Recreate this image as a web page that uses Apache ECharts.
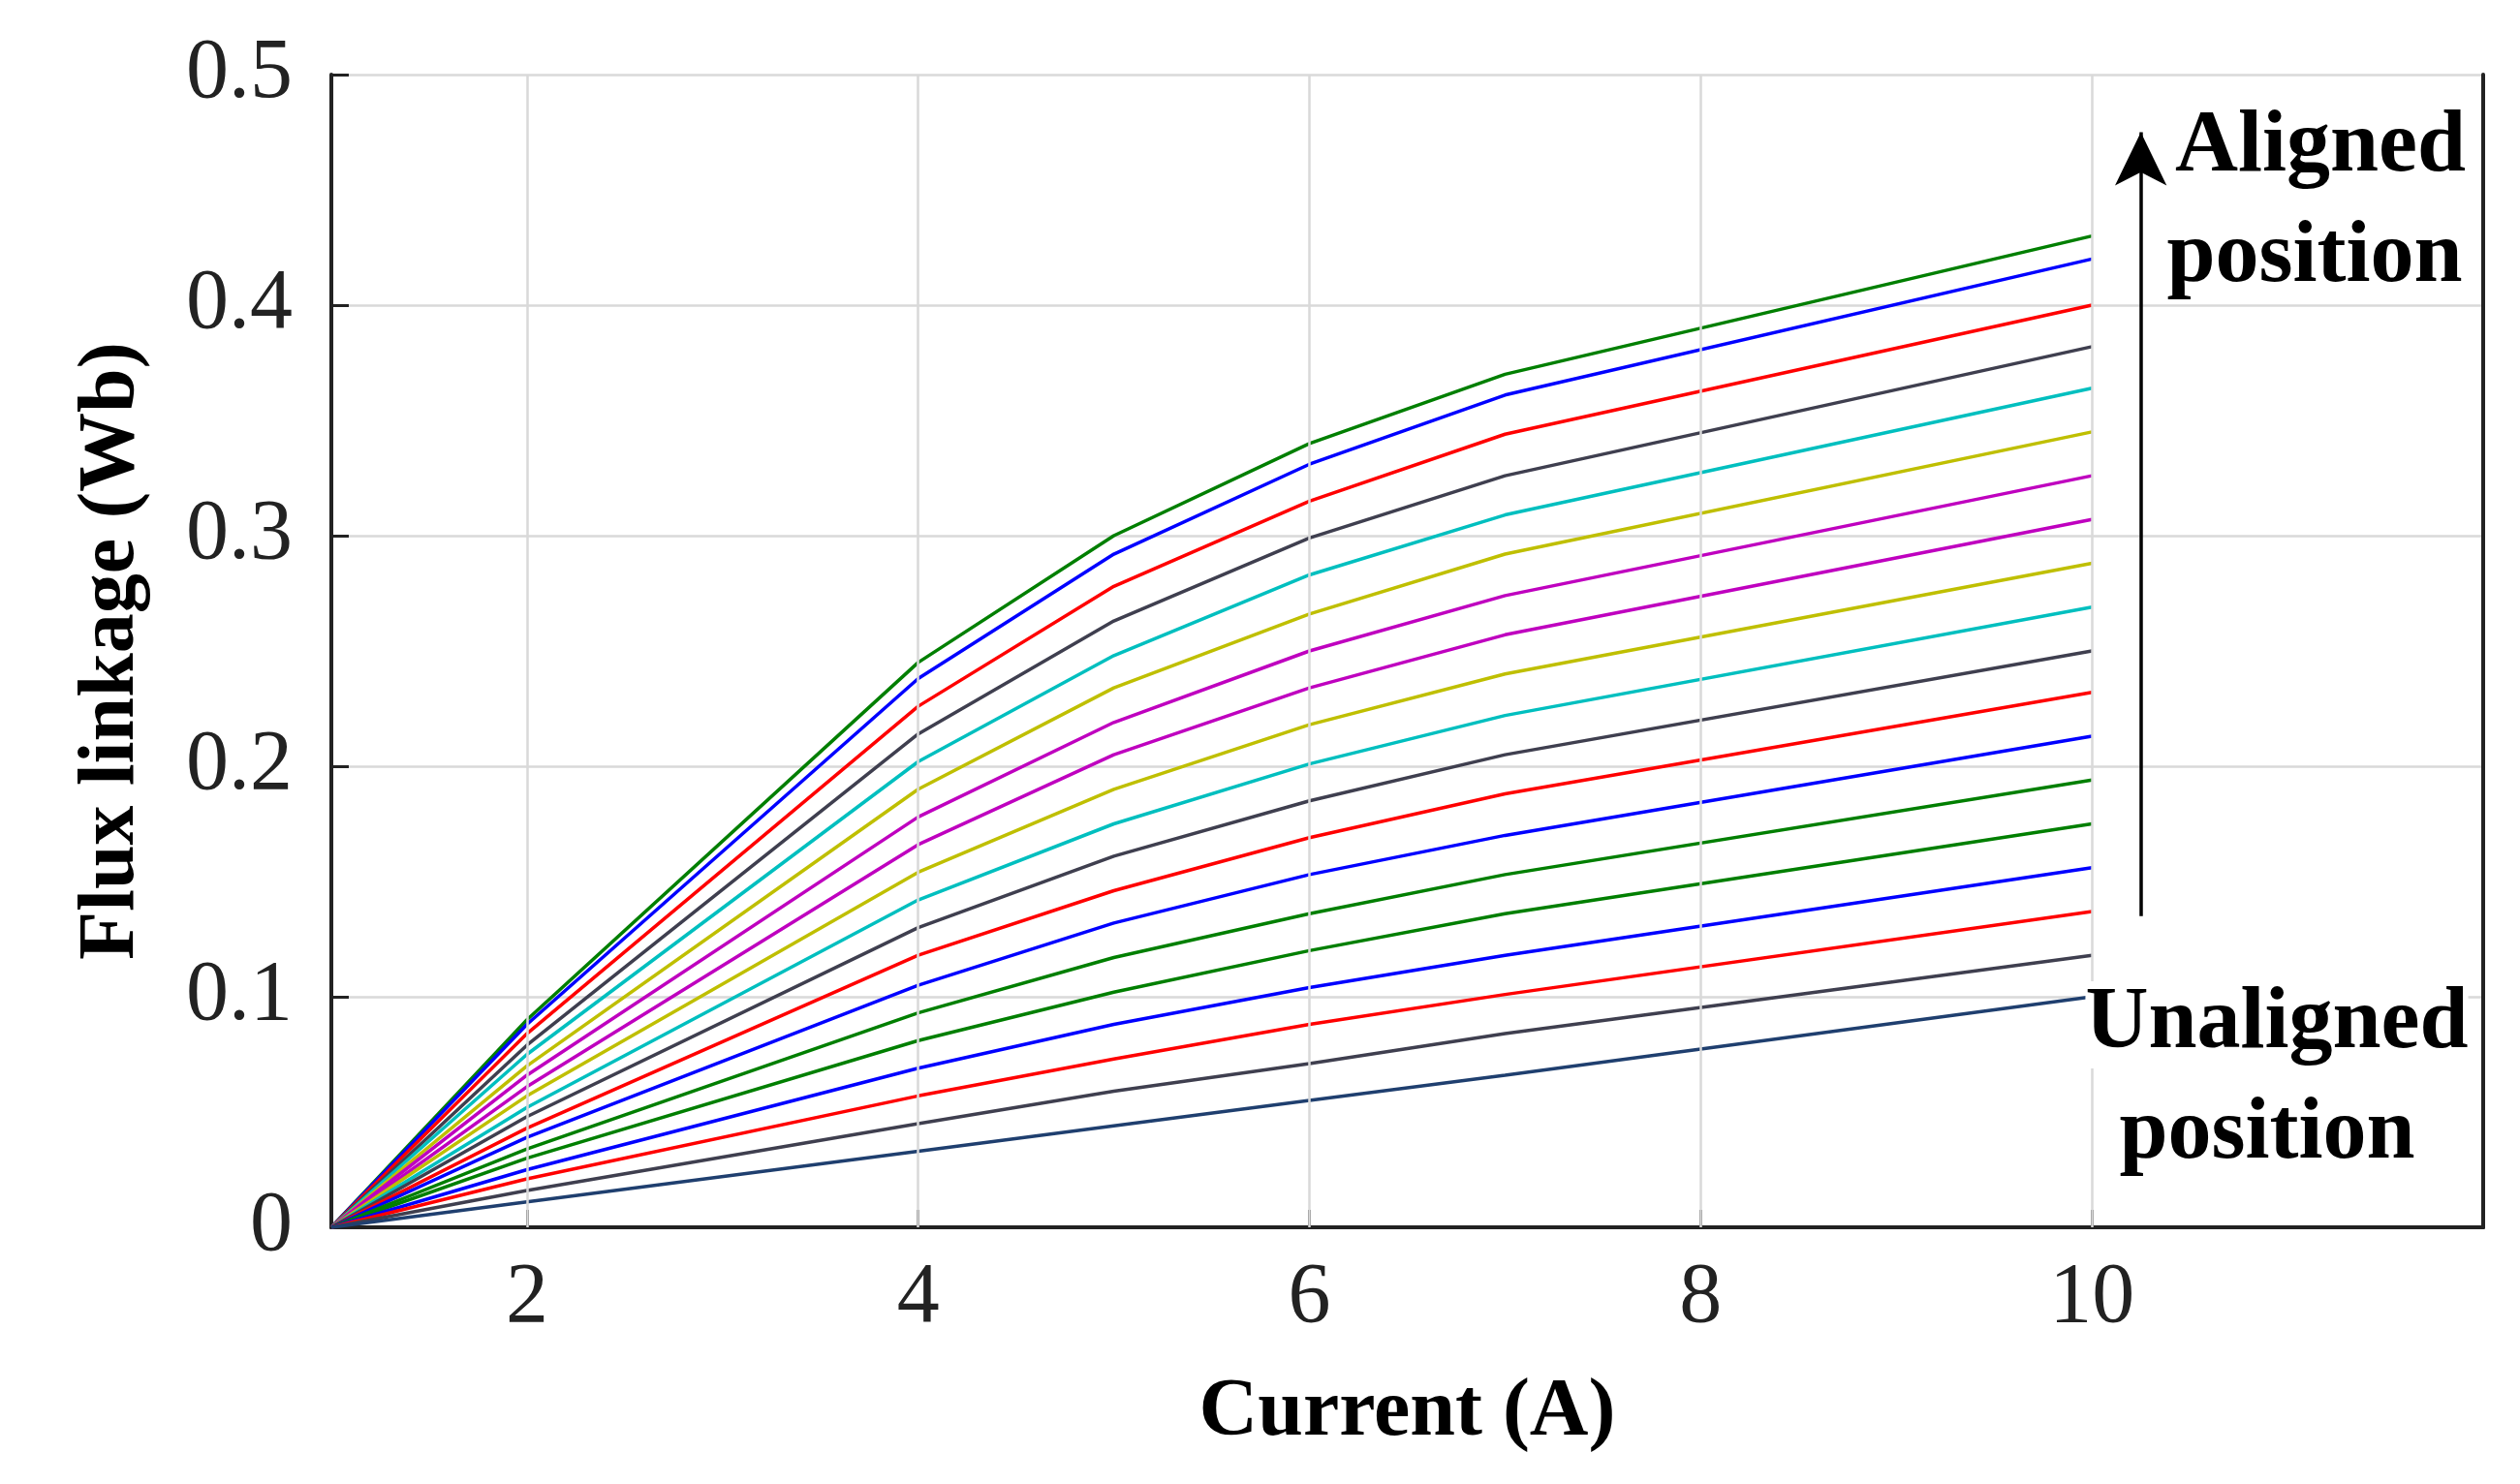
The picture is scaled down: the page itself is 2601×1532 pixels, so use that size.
<!DOCTYPE html>
<html><head><meta charset="utf-8">
<script src="https://cdn.jsdelivr.net/npm/echarts@6/dist/echarts.min.js"></script>
<style>html,body{margin:0;padding:0;background:#fff}#c{width:2601px;height:1532px}</style>
</head><body><div id="c"></div>
<script>
const xs = [1, 2, 4, 5, 6, 7, 10];
const at1 = [0,0,0,0,0,0,0,0,0,0,0,0,0,0,0,0,0,0,0];
const at2 = [0.09,0.088,0.084,0.079,0.075,0.07,0.066,0.061,0.057,0.052,0.048,0.043,0.039,0.034,0.03,0.025,0.021,0.016,0.011];
const at4 = [0.245,0.238,0.226,0.214,0.202,0.19,0.178,0.166,0.154,0.142,0.13,0.118,0.105,0.093,0.081,0.069,0.057,0.045,0.033];
const at5 = [0.30,0.292,0.278,0.263,0.248,0.234,0.219,0.205,0.19,0.175,0.161,0.146,0.132,0.117,0.102,0.088,0.073,0.059,0.044];
const at6 = [0.34,0.331,0.315,0.299,0.283,0.266,0.25,0.234,0.218,0.201,0.185,0.169,0.153,0.136,0.12,0.104,0.088,0.071,0.055];
const at7 = [0.37,0.361,0.344,0.326,0.309,0.292,0.274,0.257,0.24,0.222,0.205,0.188,0.17,0.153,0.136,0.118,0.101,0.084,0.066];
const at10 = [0.43,0.42,0.40,0.382,0.364,0.345,0.326,0.307,0.288,0.269,0.25,0.232,0.213,0.194,0.175,0.156,0.137,0.118,0.100];
const colors = ['#007f00','#0000ff','#ff0000','#3f3f4f','#00bfbf','#bfbf00','#bf00bf','#bf00bf','#bfbf00','#00bfbf','#3f3f4f','#ff0000','#0000ff','#007f00','#007f00','#0000ff','#ff0000','#3f3f4f','#1f3f6f'];
const xTicks = [2,4,6,8,10];
const yTicks = [0,0.1,0.2,0.3,0.4,0.5];
const cols = [at1,at2,at4,at5,at6,at7,at10];
const series = colors.map((c,i)=>({
  type:'line', symbol:'none', silent:true, z:3, lineStyle:{color:c,width:3.5},
  data: xs.map((x,j)=>[x, cols[j][i]])
}));
series.push({type:'line',data:[],z:1,markLine:{silent:true,symbol:['none','none'],label:{show:false},animation:false,
  lineStyle:{color:'#d9d9d9',width:2.5,type:'solid'},data:xTicks.map(x=>({xAxis:x}))}});
series.push({type:'line',data:[],z:5,markLine:{silent:true,symbol:['none','arrow'],symbolSize:[40,55],label:{show:false},
  lineStyle:{color:'#000',width:3.5,type:'solid'},data:[[{coord:[10.25,0.135]},{coord:[10.25,0.475]}]]}});
const serif = 'Liberation Serif';
const txt = (t,x,y)=>({type:'text',x:x,y:y,z:100,style:{text:t,font:'bold 90px "Liberation Serif"',fill:'#000',
  backgroundColor:'#fff',align:'center',verticalAlign:'middle'}});
const ch = echarts.init(document.getElementById('c'));
ch.setOption({
  animation:false,
  grid:{left:342,right:38,top:77,bottom:265},
  xAxis:[{type:'value',min:1,max:12,
    axisLine:{lineStyle:{color:'#222',width:4}},
    axisTick:{inside:true,length:18,customValues:xTicks,lineStyle:{color:'#222',width:3}},
    splitLine:{show:false},
    axisLabel:{fontFamily:serif,fontSize:88,color:'#222',margin:30,customValues:xTicks},
    name:'Current (A)',nameLocation:'middle',nameGap:150,nameTextStyle:{fontFamily:serif,fontWeight:'bold',fontSize:84,color:'#000'}},
    {type:'value',position:'top',min:1,max:12,axisLine:{lineStyle:{color:'#222',width:4}},axisTick:{show:false},axisLabel:{show:false},splitLine:{show:false}}],
  yAxis:[{type:'value',min:0,max:0.5,interval:0.1,
    axisLine:{lineStyle:{color:'#222',width:4}},axisTick:{inside:true,length:18,lineStyle:{color:'#222',width:3}},
    splitLine:{show:true,lineStyle:{color:'#d9d9d9',width:2.5}},
    axisLabel:{fontFamily:serif,fontSize:88,color:'#222',margin:40,formatter:v=>v===0?'0':String(v)},
    name:'Flux linkage (Wb)',nameLocation:'middle',nameGap:185,nameTextStyle:{fontFamily:serif,fontWeight:'bold',fontSize:82,color:'#000'}},
    {type:'value',position:'right',min:0,max:0.5,axisLine:{lineStyle:{color:'#222',width:4}},axisTick:{show:false},axisLabel:{show:false},splitLine:{show:false}}],
  series: series.map(s=>Object.assign(s,{xAxisIndex:0,yAxisIndex:0})),
  graphic:[
    txt('Aligned',2395,153), txt('position',2389,267),
    txt('Unaligned',2350,1058), txt('position',2340,1172)
  ]
});
</script></body></html>
